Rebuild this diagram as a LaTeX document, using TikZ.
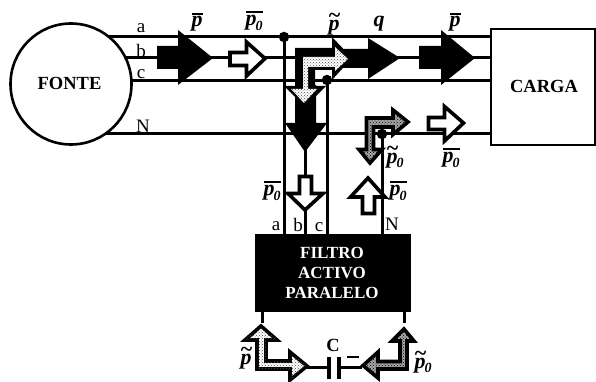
\documentclass[tikz,border=0pt]{standalone}
\usepackage{fontspec}
\setmainfont{Liberation Serif}
\usetikzlibrary{patterns}
\newcommand{\pf}{\fontsize{22}{25}\selectfont\bfseries\itshape}
\newcommand{\subz}{{\fontsize{14}{15}\selectfont\bfseries\itshape 0}}
\newcommand{\tilp}{\rlap{\kern-0.5pt\raisebox{7.5pt}{\textasciitilde}}p}
\newcommand{\Pbar}{\vbox{\hrule height 1.7pt\kern 1.2pt\hbox{\pf p}}}
\newcommand{\Ptil}{\hbox{\pf\tilp}}
\newcommand{\Pbarz}{\vbox{\hrule height 1.7pt\kern 2.4pt\hbox{\pf p\kern-1pt\raisebox{-4.5pt}{\subz}}}}
\newcommand{\Ptilz}{\hbox{\pf\tilp\kern-1pt\raisebox{-4.5pt}{\subz}}}
\tikzset{
  wire/.style={line width=3pt},
  lbl/.style={inner sep=0pt,font=\fontsize{19}{21}\selectfont},
  bold lbl/.style={inner sep=0pt,font=\fontsize{18.5}{20}\selectfont\bfseries},
  filt lbl/.style={inner sep=0pt,font=\fontsize{17}{19}\selectfont\bfseries,text=white},
  plab/.style={inner sep=0pt},
  blackarrow/.style={fill=black,draw=none},
  whitearrow/.style={fill=white,draw=black,line width=3.6pt,miter limit=10},
  darkarrow/.style={fill=gray!70,line width=3.6pt,draw=black,miter limit=10},
  dot/.style={circle,fill=black,inner sep=0pt,minimum size=10.5pt},
}
\begin{document}
\begin{tikzpicture}[x=1pt,y=-1pt]
\useasboundingbox (0,0) rectangle (596,382);
% junction coordinates
\coordinate (aS) at (100,37); \coordinate (bS) at (100,58); \coordinate (cS) at (100,81); \coordinate (nS) at (100,134);
\coordinate (aE) at (491,37); \coordinate (bE) at (491,58); \coordinate (cE) at (491,81); \coordinate (nE) at (491,134);
\coordinate (ja) at (284,37); \coordinate (jb) at (305,58); \coordinate (jc) at (327,81); \coordinate (jn) at (382,134);
\coordinate (fa) at (284,236); \coordinate (fb) at (305,236); \coordinate (fc) at (327,236); \coordinate (fn) at (382,236);
\coordinate (dl) at (262,323); \coordinate (dr) at (404,323);
\coordinate (capl) at (329,367); \coordinate (capr) at (339,367);
% wires
\draw[wire] (aS)--(aE); \draw[wire] (bS)--(bE); \draw[wire] (cS)--(cE); \draw[wire] (nS)--(nE);
\draw[wire] (ja)--(fa); \draw[wire] (jc)--(fc); \draw[wire] (jb)--(fb); \draw[wire] (jn)--(fn);
% source / load / filter
\node[circle,draw,fill=white,line width=2.6pt,minimum size=121pt,inner sep=0pt] (fonte) at (71,84) {};
\node[bold lbl] (fontel) at (69.5,83) {FONTE};
\draw[line width=2.6pt,fill=white] (491,29) rectangle (595,145);
\node[bold lbl] (carga) at (544,86) {CARGA};
\node[fill=black,minimum width=156pt,minimum height=78pt,inner sep=0pt] (filtro) at (333,273) {};
\node[filt lbl] (f1) at (332,253) {FILTRO};
\node[filt lbl] (f2) at (332,273) {ACTIVO};
\node[filt lbl] (f3) at (332,293) {PARALELO};
\draw[wire] (filtro.south -| dl)--(dl); \draw[wire] (filtro.south -| dr)--(dr);
% black arrows
\fill[blackarrow] (157,46)--(178,46)--(178,30)--(213,58)--(178,85)--(178,69)--(157,69)--cycle;
\fill[blackarrow] (330,49)--(368,49)--(368,38)--(400,58)--(368,79)--(368,68)--(330,68)--cycle;
\fill[blackarrow] (419,46)--(441,46)--(441,30)--(475,58)--(441,85)--(441,69)--(419,69)--cycle;
\fill[blackarrow] (295,85)--(316,85)--(316,123)--(327,123)--(305,152)--(285,123)--(295,123)--cycle;
% white arrows
\draw[whitearrow] (230,52.5)--(246.5,52.5)--(246.5,42)--(265,58.5)--(246.5,76)--(246.5,65.5)--(230,65.5)--cycle;
\draw[whitearrow] (299.5,176.5)--(311.5,176.5)--(311.5,193.5)--(323,193.5)--(305,210)--(288,193.5)--(299.5,193.5)--cycle;
\draw[whitearrow] (362.5,213.5)--(374.5,213.5)--(374.5,197)--(385,197)--(368,178)--(350.5,197)--(362.5,197)--cycle;
\draw[whitearrow] (428.5,117.5)--(444.5,117.5)--(444.5,106.5)--(463.5,123)--(444.5,141)--(444.5,129.5)--(428.5,129.5)--cycle;
% bent arrow centre
\fill[blackarrow] (295,48)--(332,48)--(332,37)--(352,58)--(332,80)--(332,70)--(315,70)--(315,86)--(326,86)--(305,107)--(284,86)--(295,86)--cycle;
\fill[white] (303,57)--(335,57)--(335,47)--(348,59)--(335,71)--(335,67)--(308,67)--(308,89)--(317,89)--(304,103)--(291,89)--(303,89)--cycle;
\fill[pattern=crosshatch dots,pattern color=black!70] (303,57)--(335,57)--(335,47)--(348,59)--(335,71)--(335,67)--(308,67)--(308,89)--(317,89)--(304,103)--(291,89)--(303,89)--cycle;
% bent dark arrow at neutral
\path[darkarrow] (366.5,118)--(393,118)--(393,110)--(408,122)--(393,134.5)--(393,127)--(373.5,127)--(373.5,149.5)--(382,149.5)--(370,163)--(359,149.5)--(366.5,149.5)--cycle;
\path[pattern=crosshatch dots,pattern color=black] (366.5,118)--(393,118)--(393,110)--(408,122)--(393,134.5)--(393,127)--(373.5,127)--(373.5,149.5)--(382,149.5)--(370,163)--(359,149.5)--(366.5,149.5)--cycle;
% capacitor side arrows
\draw[line width=3.6pt,fill=white,miter limit=10] (261,326)--(277,340)--(266,340)--(266,361)--(290,361)--(290,352)--(307,366)--(290,380)--(290,369)--(257,369)--(257,340)--(245,340)--cycle;
\path[pattern=crosshatch dots,pattern color=black!70] (261,326)--(277,340)--(266,340)--(266,361)--(290,361)--(290,352)--(307,366)--(290,380)--(290,369)--(257,369)--(257,340)--(245,340)--cycle;
\path[darkarrow] (404,329)--(414,341)--(407,341)--(407,369)--(378,369)--(378,378)--(363,365.5)--(378,352)--(378,361.5)--(400,361.5)--(400,341)--(392,341)--cycle;
\path[pattern=crosshatch dots,pattern color=black] (404,329)--(414,341)--(407,341)--(407,369)--(378,369)--(378,378)--(363,365.5)--(378,352)--(378,361.5)--(400,361.5)--(400,341)--(392,341)--cycle;
% capacitor
\draw[wire] (307,367)--(capl); \draw[wire] (capr)--(362,367);
\draw[line width=3.6pt] (329,357)--(329,379);
\draw[line width=3.6pt] (339,357)--(339,379);
\draw[line width=2.6pt] (347,357)--(359,357);
\node[bold lbl] (cl) at (333,345) {C};
% dots
\node[dot] (da) at (ja) {};
\node[dot] (dc) at (327,80) {};
\node[dot] (dn) at (jn) {};
% small labels
\node[lbl] (la) at (141,28) {a}; \node[lbl] (lb) at (141,51) {b}; \node[lbl] (lc) at (141,74) {c}; \node[lbl] (ln) at (143,126) {N};
\node[lbl] (la2) at (276,226) {a}; \node[lbl] (lb2) at (298,225) {b}; \node[lbl] (lc2) at (319,227) {c}; \node[lbl] (ln2) at (392,224) {N};
% power labels
\node[plab] (p1) at (197,22) {\Pbar};
\node[plab] (p2) at (254,21) {\Pbarz};
\node[plab] (p3) at (334,24) {\Ptil};
\node[plab] (p4) at (379,24) {\pf q};
\node[plab] (p5) at (455,22) {\Pbar};
\node[plab] (p6) at (395,157) {\Ptilz};
\node[plab] (p7) at (398,191) {\Pbarz};
\node[plab] (p8) at (272,191) {\Pbarz};
\node[plab] (p9) at (451,158) {\Pbarz};
\node[plab] (p10) at (246,358) {\Ptil};
\node[plab] (p11) at (423,362) {\Ptilz};
\end{tikzpicture}
\end{document}
